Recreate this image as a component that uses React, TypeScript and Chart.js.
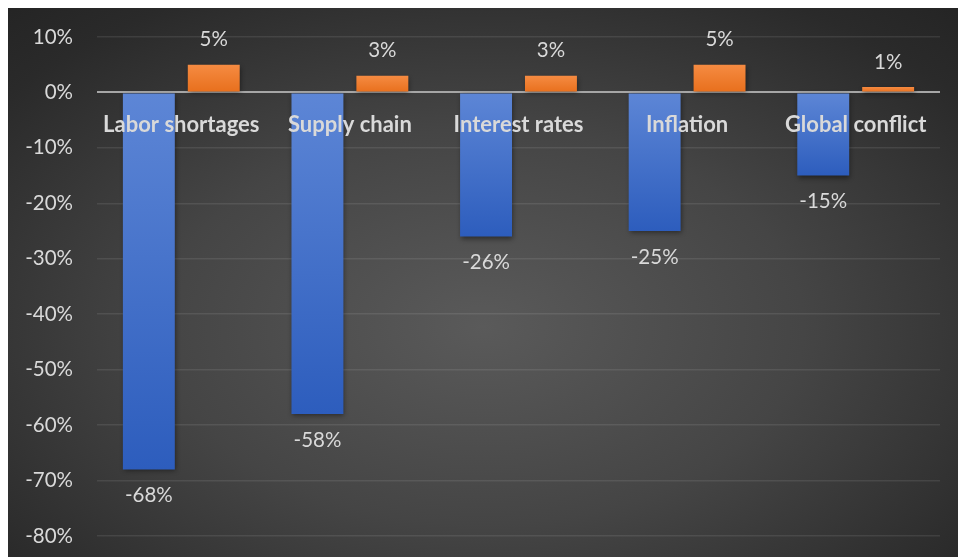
import { useEffect, useRef } from 'react'
import { Chart, registerables } from 'chart.js'
import type { Plugin } from 'chart.js'

Chart.register(...registerables)

const categories = ['Labor shortages', 'Supply chain', 'Interest rates', 'Inflation', 'Global conflict']
const blueValues = [-68, -58, -26, -25, -15]
const orangeValues = [5, 3, 3, 5, 1]
const yTicks = [10, 0, -10, -20, -30, -40, -50, -60, -70, -80]

const TEXT = '#d9d9d9'
const FONT = 'Lato, "Open Sans", sans-serif'

const barShadow: Plugin<'bar'> = {
  id: 'barShadow',
  beforeDatasetDraw(chart) {
    const ctx = chart.ctx
    ctx.save()
    ctx.shadowColor = 'rgba(0, 0, 0, 0.45)'
    ctx.shadowBlur = 5
    ctx.shadowOffsetX = 1
    ctx.shadowOffsetY = 2
  },
  afterDatasetDraw(chart) {
    chart.ctx.restore()
  },
}

const labelsPlugin: Plugin<'bar'> = {
  id: 'valueLabels',
  afterDatasetsDraw(chart) {
    const ctx = chart.ctx
    const y = chart.scales.y
    const zero = y.getPixelForValue(0)
    ctx.save()
    ctx.fillStyle = TEXT
    ctx.textAlign = 'center'
    ctx.textBaseline = 'middle'

    ctx.font = `20.5px ${FONT}`
    chart.data.datasets.forEach((ds, di) => {
      const meta = chart.getDatasetMeta(di)
      meta.data.forEach((bar, i) => {
        const v = ds.data[i] as number
        const py = y.getPixelForValue(v)
        const ly = v >= 0 ? py - 25 : py + 26
        ctx.fillText(`${v}%`, bar.x, ly)
      })
    })

    ctx.font = `bold 22px ${FONT}`
    categories.forEach((c, i) => {
      ctx.fillText(c, chart.scales.x.getPixelForValue(i), zero + 32)
    })
    ctx.restore()
  },
}

function barGradient(chart: Chart, value: number, top: string, bottom: string) {
  const y = chart.scales.y
  if (!y) return bottom
  const zero = y.getPixelForValue(0)
  const end = y.getPixelForValue(value)
  if (!Number.isFinite(zero) || !Number.isFinite(end) || zero === end) return bottom
  const g = chart.ctx.createLinearGradient(0, Math.min(zero, end), 0, Math.max(zero, end))
  g.addColorStop(0, top)
  g.addColorStop(1, bottom)
  return g
}

export default function App() {
  const canvasRef = useRef<HTMLCanvasElement>(null)
  const chartRef = useRef<Chart | null>(null)

  useEffect(() => {
    if (!canvasRef.current) return
    if (chartRef.current) {
      chartRef.current.destroy()
      chartRef.current = null
    }

    chartRef.current = new Chart(canvasRef.current, {
      type: 'bar',
      data: {
        labels: categories,
        datasets: [
          {
            label: 'Negative impact',
            data: blueValues,
            backgroundColor: (c) => barGradient(c.chart, blueValues[c.dataIndex] ?? 0, '#5d86d6', '#2d5dbd'),
            borderWidth: 0,
            categoryPercentage: 0.77,
            barPercentage: 0.8,
          },
          {
            label: 'Positive impact',
            data: orangeValues,
            backgroundColor: (c) => barGradient(c.chart, orangeValues[c.dataIndex] ?? 0, '#f58b42', '#e86f1c'),
            borderWidth: 0,
            categoryPercentage: 0.77,
            barPercentage: 0.8,
          },
        ],
      },
      options: {
        responsive: true,
        maintainAspectRatio: false,
        animation: false,
        layout: {
          padding: { top: 29, right: 18, bottom: 21, left: 0 },
        },
        plugins: {
          legend: { display: false },
          tooltip: { enabled: false },
        },
        scales: {
          x: {
            display: false,
          },
          y: {
            min: -80,
            max: 10,
            afterFit(scale) {
              scale.width = 89
              scale.paddingTop = 0
              scale.paddingBottom = 0
            },
            afterBuildTicks(scale) {
              scale.ticks = yTicks.map((value) => ({ value }))
            },
            ticks: {
              color: TEXT,
              padding: 24,
              font: { family: FONT, size: 20.5 },
              callback(value) {
                return `${value}%`
              },
            },
            grid: {
              drawTicks: false,
              color(context) {
                if (context.tick && context.tick.value === 0) return '#a6a6a6'
                return 'rgba(255, 255, 255, 0.09)'
              },
              lineWidth(context) {
                if (context.tick && context.tick.value === 0) return 2
                return 1.5
              },
            },
            border: { display: false },
          },
        },
      },
      plugins: [barShadow, labelsPlugin],
    })

    return () => {
      if (chartRef.current) {
        chartRef.current.destroy()
        chartRef.current = null
      }
    }
  }, [])

  return (
    <div
      style={{
        position: 'fixed',
        left: 8,
        top: 8,
        right: 0,
        bottom: 0,
        background: 'radial-gradient(ellipse 75% 80% at 50% 58%, #5a5a5a 0%, #454545 45%, #2a2a2a 85%, #242424 100%)',
      }}
    >
      <canvas ref={canvasRef} />
    </div>
  )
}
